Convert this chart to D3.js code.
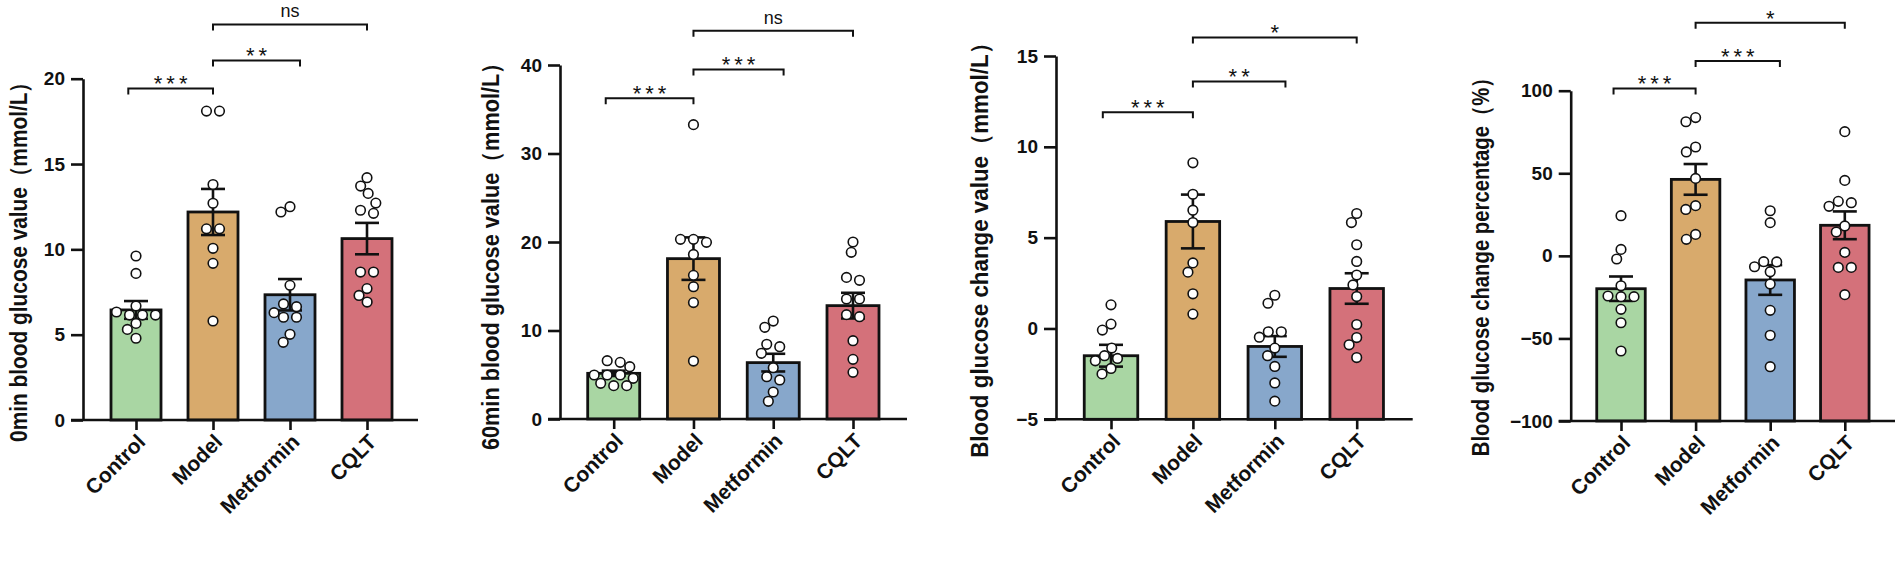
<!DOCTYPE html>
<html>
<head>
<meta charset="utf-8">
<script src="https://cdn.jsdelivr.net/npm/d3@7"></script>
<style>
  body { margin: 0; background: #fff; }
  svg text { font-family: "Liberation Sans", Arial, Helvetica, sans-serif; }
</style>
</head>
<body>
<div id="chart"></div>
<script>
// groups shared by all four panels
const groups = ['Control', 'Model', 'Metformin', 'CQLT'];
const sigPairs = [['Control', 'Model'], ['Model', 'Metformin'], ['Model', 'CQLT']];

// 0 min blood glucose
const glu0Title = '0min blood glucose value（mmol/L）';
const glu0Ticks = [0, 5, 10, 15, 20];
const glu0Mean = [6.45, 12.19, 7.34, 10.63];
const glu0Sem = [0.52, 1.35, 0.92, 0.92];
const glu0Points = [
  [9.61, 8.59, 6.68, 6.33, 6.15, 6.15, 6.15, 5.66, 5.31, 4.79],
  [18.1, 18.1, 13.8, 12.7, 11.2, 11.2, 10.06, 9.18, 5.8],
  [12.5, 12.19, 7.89, 6.8, 6.64, 6.29, 6.02, 6.02, 5.02, 4.55],
  [14.2, 13.71, 13.28, 12.71, 12.29, 12.11, 8.67, 8.67, 7.7, 7.3, 6.91]
];
const glu0Sig = ['***', '**', 'ns'];
const glu0SigLevel = [19.43, 21.07, 23.18];

// 60 min blood glucose
const glu60Title = '60min blood glucose value（mmol/L）';
const glu60Ticks = [0, 10, 20, 30, 40];
const glu60Mean = [5.16, 18.12, 6.37, 12.81];
const glu60Sem = [0.3, 2.4, 1.0, 1.45];
const glu60Points = [
  [6.59, 6.4, 5.91, 4.97, 4.97, 4.97, 4.6, 4.03, 3.77, 3.77],
  [33.26, 20.3, 20.3, 19.96, 18.6, 16.23, 14.95, 13.15, 6.55],
  [11.07, 10.36, 8.44, 8.17, 7.42, 5.8, 4.78, 4.41, 3.05, 2.0],
  [20.0, 18.83, 16.0, 15.67, 13.56, 13.56, 11.79, 11.56, 8.85, 6.74, 5.27]
];
const glu60Sig = ['***', '***', 'ns'];
const glu60SigLevel = [36.23, 39.5, 43.88];

// blood glucose change value
const chgTitle = 'Blood glucose change value（mmol/L）';
const chgTicks = [-5, 0, 5, 10, 15];
const chgMean = [-1.5, 5.89, -0.99, 2.2];
const chgSem = [0.6, 1.48, 0.57, 0.84];
const chgPoints = [
  [1.3, 0.24, -0.09, -1.08, -1.5, -1.65, -1.78, -2.2, -2.5],
  [9.12, 7.39, 6.51, 5.83, 3.61, 3.1, 1.91, 0.79],
  [1.83, 1.39, -0.18, -0.18, -0.48, -1.08, -1.5, -2.09, -3.0, -4.0],
  [6.33, 5.83, 4.61, 3.69, 2.94, 2.4, 1.76, 0.22, -0.5, -0.9, -1.6]
];
const chgSig = ['***', '**', '*'];
const chgSigLevel = [11.91, 13.6, 16.02];

// blood glucose change percentage
const pctTitle = 'Blood glucose change percentage（%）';
const pctTicks = [-100, -50, 0, 50, 100];
const pctMean = [-19.9, 46.3, -14.6, 18.5];
const pctSem = [7.4, 9.3, 9.0, 8.4];
const pctPoints = [
  [24.3, 3.9, -1.9, -18.1, -24.3, -24.7, -24.7, -32.4, -40.5, -57.6],
  [83.7, 81.2, 65.9, 62.9, 46.9, 30.4, 28.1, 13.0, 10.0],
  [27.3, 20.1, -3.5, -3.7, -6.6, -9.6, -17.1, -33.0, -48.1, -67.1],
  [75.2, 45.7, 33.0, 32.2, 30.0, 18.1, 14.4, 2.1, -7.0, -7.0, -23.5]
];
const pctSig = ['***', '***', '*'];
const pctSigLevel = [101.4, 118.0, 141.2];

const panels = [
  { title: glu0Title, ticks: glu0Ticks, mean: glu0Mean, sem: glu0Sem, points: glu0Points, sig: glu0Sig, sigLevel: glu0SigLevel },
  { title: glu60Title, ticks: glu60Ticks, mean: glu60Mean, sem: glu60Sem, points: glu60Points, sig: glu60Sig, sigLevel: glu60SigLevel },
  { title: chgTitle, ticks: chgTicks, mean: chgMean, sem: chgSem, points: chgPoints, sig: chgSig, sigLevel: chgSigLevel },
  { title: pctTitle, ticks: pctTicks, mean: pctMean, sem: pctSem, points: pctPoints, sig: pctSig, sigLevel: pctSigLevel }
];

// layout of each panel on the page (pixels)
const layout = [
  { axisX: 83, yTop: 78.7, yBottom: 420, xRight: 418, c0: 136, c3: 367, bw: 50, titleX: 27, titleY: 257, titleLen: 371 },
  { axisX: 560, yTop: 65, yBottom: 419, xRight: 907, c0: 613.7, c3: 853, bw: 52, titleX: 499, titleY: 251, titleLen: 398 },
  { axisX: 1056, yTop: 56, yBottom: 419.3, xRight: 1412.7, c0: 1111, c3: 1356.7, bw: 53.5, titleX: 988, titleY: 245, titleLen: 426 },
  { axisX: 1570.7, yTop: 90.7, yBottom: 421, xRight: 1895, c0: 1621, c3: 1844.8, bw: 48.5, titleX: 1489, titleY: 262, titleLen: 389 }
];

const barColors = ['#a9d6a3', '#d8aa6c', '#87a7cb', '#d4717a'];
const ink = '#111';
// bracket ends are nudged off the bar centre a little, as in the figure
const bracketNudge = { Control: -0.1, Model: 0, Metformin: 0.13, CQLT: 0 };

const svg = d3.select('#chart').append('svg')
  .attr('width', 1902).attr('height', 586);
svg.append('rect').attr('width', 1902).attr('height', 586).attr('fill', '#fff');

// dot layout: equal values sit in a centred row, the rest dodge like a beeswarm
function swarm(vals, yScale, diam, rowGap) {
  const out = new Array(vals.length).fill(null);
  const placed = [];
  const order = vals.map((v, i) => i).sort((a, b) => vals[b] - vals[a]);

  // rows of (almost) equal values
  let k = 0;
  while (k < order.length) {
    const row = [order[k]];
    while (k + row.length < order.length &&
      Math.abs(yScale(vals[order[k + row.length]]) - yScale(vals[order[k]])) < 3.5) {
      row.push(order[k + row.length]);
    }
    if (row.length > 1) {
      row.forEach((idx, r) => {
        out[idx] = (r - (row.length - 1) / 2) * rowGap;
        placed.push({ x: out[idx], y: yScale(vals[idx]) });
      });
    }
    k += row.length;
  }

  // single dots
  order.filter(i => out[i] === null).forEach(i => {
    const py = yScale(vals[i]);
    const blocks = placed
      .filter(q => Math.abs(q.y - py) < diam)
      .map(q => {
        const w = Math.sqrt(diam * diam - (q.y - py) ** 2);
        return [q.x - w, q.x + w];
      });
    const cands = [0].concat(blocks.flat())
      .sort((a, b) => Math.abs(a) - Math.abs(b) || a - b);
    const px = cands.find(c => blocks.every(b => c <= b[0] + 1e-6 || c >= b[1] - 1e-6));
    placed.push({ x: px, y: py });
    out[i] = px;
  });
  return out;
}

panels.forEach((p, i) => {
  const L = layout[i];
  const g = svg.append('g');

  const y = d3.scaleLinear().domain(d3.extent(p.ticks)).range([L.yBottom, L.yTop]);
  const x = d3.scalePoint().domain(groups).range([L.c0, L.c3]);
  const step = x.step();
  const base = y.domain()[0];

  // bars
  g.selectAll('.bar').data(groups).join('rect')
    .attr('class', 'bar')
    .attr('x', d => x(d) - L.bw / 2)
    .attr('width', L.bw)
    .attr('y', (d, j) => y(p.mean[j]))
    .attr('height', (d, j) => y(base) - y(p.mean[j]))
    .attr('fill', (d, j) => barColors[j])
    .attr('stroke', ink)
    .attr('stroke-width', 2.8);

  // error bars (mean ± SEM)
  const err = g.selectAll('.err').data(groups).join('g').attr('class', 'err')
    .attr('stroke', ink).attr('stroke-width', 2.6);
  err.append('line')
    .attr('x1', d => x(d)).attr('x2', d => x(d))
    .attr('y1', (d, j) => y(p.mean[j] - p.sem[j]))
    .attr('y2', (d, j) => y(p.mean[j] + p.sem[j]));
  [-1, 1].forEach(s => {
    err.append('line')
      .attr('x1', d => x(d) - 12).attr('x2', d => x(d) + 12)
      .attr('y1', (d, j) => y(p.mean[j] + s * p.sem[j]))
      .attr('y2', (d, j) => y(p.mean[j] + s * p.sem[j]));
  });

  // individual animals
  groups.forEach((grp, j) => {
    const offs = swarm(p.points[j], y, 10.5, 13);
    g.selectAll(`.pt${j}`).data(p.points[j]).join('circle')
      .attr('class', `pt${j}`)
      .attr('cx', (d, k) => x(grp) + offs[k])
      .attr('cy', d => y(d))
      .attr('r', 4.8)
      .attr('fill', '#fff')
      .attr('stroke', ink)
      .attr('stroke-width', 1.6);
  });

  // y axis
  const yAxis = g.append('g')
    .attr('transform', `translate(${L.axisX},0)`)
    .call(d3.axisLeft(y).tickValues(p.ticks).tickSize(12).tickSizeOuter(0).tickPadding(6));
  yAxis.select('.domain').attr('stroke', ink).attr('stroke-width', 2.6);
  yAxis.selectAll('.tick line').attr('stroke', ink).attr('stroke-width', 2.6);
  yAxis.selectAll('.tick text')
    .attr('fill', ink)
    .style('font-size', '19px')
    .style('font-weight', 'bold');

  // x axis
  const xAxis = g.append('g')
    .attr('transform', `translate(0,${L.yBottom})`)
    .call(d3.axisBottom(x).tickSize(10).tickSizeOuter(0));
  xAxis.select('.domain').remove();
  xAxis.append('line')
    .attr('x1', L.axisX - 12).attr('x2', L.xRight)
    .attr('stroke', ink).attr('stroke-width', 2.6);
  xAxis.selectAll('.tick line').attr('stroke', ink).attr('stroke-width', 2.6);
  xAxis.selectAll('.tick text')
    .attr('y', 0).attr('dy', '0.35em')
    .attr('text-anchor', 'end')
    .attr('transform', 'translate(5,18) rotate(-45)')
    .attr('fill', ink)
    .style('font-size', '21px')
    .style('font-weight', 'bold');

  // y title, squeezed along its length to the width seen in the figure
  const title = g.append('text')
    .attr('text-anchor', 'middle')
    .attr('fill', ink)
    .style('font-size', '24px')
    .style('font-weight', 'bold')
    .text(p.title);
  const natural = title.node().getComputedTextLength();
  title.attr('transform',
    `translate(${L.titleX},${L.titleY}) rotate(-90) scale(${L.titleLen / natural},1)`);

  // significance brackets
  sigPairs.forEach(([a, b], k) => {
    const x1 = x(a) + bracketNudge[a] * step;
    const x2 = x(b) + bracketNudge[b] * step;
    const yb = y(p.sigLevel[k]);
    g.append('path')
      .attr('d', `M${x1},${yb + 6}V${yb}H${x2}V${yb + 6}`)
      .attr('fill', 'none')
      .attr('stroke', ink)
      .attr('stroke-width', 2);
    const isNs = p.sig[k] === 'ns';
    g.append('text')
      .attr('x', (x1 + x2) / 2 + (isNs ? 0 : 2))
      .attr('y', isNs ? yb - 7 : yb + 3)
      .attr('text-anchor', 'middle')
      .attr('fill', ink)
      .style('font-size', isNs ? '18px' : '22px')
      .style('letter-spacing', isNs ? '0px' : '4px')
      .text(p.sig[k]);
  });
});
</script>
</body>
</html>
